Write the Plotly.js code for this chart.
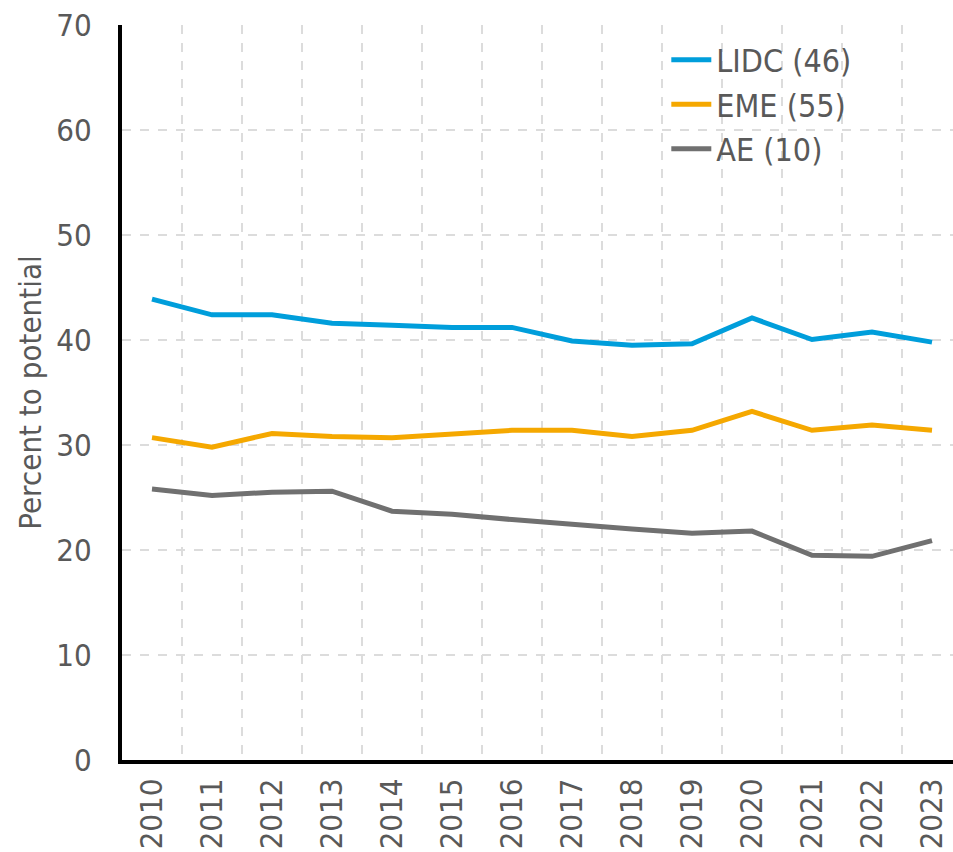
<!DOCTYPE html>
<html>
<head>
<meta charset="utf-8">
<script src="https://cdn.plot.ly/plotly-3.0.1.min.js"></script>
<style>html,body{margin:0;padding:0;background:#fff;}#chart{width:953px;height:852px;}</style>
</head>
<body>
<div id="chart"></div>
<script>
const years = ['2010','2011','2012','2013','2014','2015','2016','2017','2018','2019','2020','2021','2022','2023'];
const lidc = [43.9, 42.4, 42.4, 41.6, 41.4, 41.2, 41.2, 39.9, 39.5, 39.65, 42.1, 40.05, 40.75, 39.8];
const eme  = [30.7, 29.8, 31.1, 30.8, 30.7, 31.0, 31.4, 31.4, 30.8, 31.4, 33.2, 31.4, 31.9, 31.4];
const ae   = [25.8, 25.2, 25.5, 25.6, 23.7, 23.4, 22.9, 22.4, 22.0, 21.6, 21.8, 19.5, 19.4, 20.9];
const seriesNames = ['LIDC (46)', 'EME (55)', 'AE (10)'];
const yTicks = [0, 10, 20, 30, 40, 50, 60, 70];

const FONT = '"DejaVu Sans Condensed", "DejaVu Sans", sans-serif';
const colors = ['#009EDB', '#F5A800', '#707070'];
const data = [lidc, eme, ae].map((v, i) => ({
  x: years, y: v, type: 'scatter', mode: 'lines', name: seriesNames[i],
  line: {color: colors[i], width: 5}
}));

const layout = {
  width: 953, height: 852,
  margin: {l: 122, r: 0, t: 25, b: 92},
  paper_bgcolor: '#ffffff', plot_bgcolor: '#ffffff',
  font: {family: FONT, color: '#595959', size: 31},
  showlegend: true,
  legend: {x: 0.655, y: 0.99, xanchor: 'left', yanchor: 'top', bgcolor: 'rgba(0,0,0,0)',
           font: {family: FONT, size: 32, color: '#595959'}, tracegroupgap: 0, itemwidth: 40},
  xaxis: {
    type: 'category', range: [-0.5, 13.35], tickson: 'boundaries',
    showgrid: true, gridcolor: '#dcdcdc', griddash: 'dash', gridwidth: 1.5,
    showline: true, linecolor: '#000000', linewidth: 4,
    ticks: '', tickangle: -90, ticklabelstandoff: 2,
    tickfont: {family: FONT, size: 31, color: '#595959'}, zeroline: false, fixedrange: true
  },
  yaxis: {
    range: [0, 70], tickvals: yTicks, ticktext: yTicks.map(String),
    showgrid: true, gridcolor: '#dcdcdc', griddash: 'dash', gridwidth: 1.5,
    showline: true, linecolor: '#000000', linewidth: 4, zeroline: false,
    ticks: '', ticklabelstandoff: 20,
    tickfont: {family: FONT, size: 31, color: '#595959'},
    title: {text: 'Percent to potential', font: {family: FONT, size: 31, color: '#595959'}, standoff: 6},
    fixedrange: true
  }
};
Plotly.newPlot('chart', data, layout, {displayModeBar: false, staticPlot: true});
</script>
</body>
</html>
